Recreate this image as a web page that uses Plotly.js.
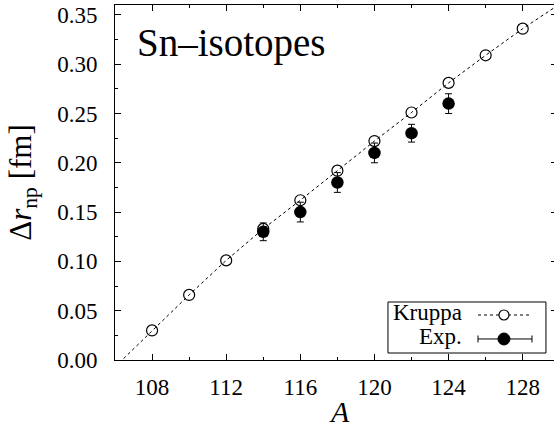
<!DOCTYPE html>
<html>
<head>
<meta charset="utf-8">
<script src="https://cdn.plot.ly/plotly-3.0.1.min.js"></script>
<style>
html, body { margin: 0; padding: 0; overflow: hidden; background: #fff; }
#chart { width: 558px; height: 423px; }
</style>
</head>
<body>
<div id="chart"></div>
<script>
// Kruppa calculation (open circles)
const kruppaA = [108, 110, 112, 114, 116, 118, 120, 122, 124, 126, 128];
const kruppaR = [0.030, 0.066, 0.101, 0.133, 0.162, 0.192, 0.222, 0.251, 0.281, 0.309, 0.336];
// Dashed Kruppa curve, extended to the frame edges
const curveA = [106, 108, 110, 112, 114, 116, 118, 120, 122, 124, 126, 128, 130];
const curveR = [-0.007, 0.030, 0.066, 0.101, 0.133, 0.162, 0.192, 0.222, 0.251, 0.281, 0.309, 0.336, 0.361];
// Experimental values (filled circles with error bars)
const expA = [114, 116, 118, 120, 122, 124];
const expR = [0.130, 0.150, 0.180, 0.210, 0.230, 0.260];
const expErr = [0.009, 0.010, 0.010, 0.010, 0.009, 0.010];
// Axis ticks
const xTicks = [108, 112, 116, 120, 124, 128];
const yTicks = [0.00, 0.05, 0.10, 0.15, 0.20, 0.25, 0.30, 0.35];
const yTickText = ['0.00', '0.05', '0.10', '0.15', '0.20', '0.25', '0.30', '0.35'];

const FONT = 'Liberation Serif';

const traces = [
  {
    x: curveA, y: curveR, type: 'scatter', mode: 'lines',
    line: {color: '#000', width: 1, dash: '3px,3px'},
    showlegend: false, hoverinfo: 'skip'
  },
  {
    x: kruppaA, y: kruppaR, type: 'scatter', mode: 'markers',
    marker: {symbol: 'circle-open', size: 11, color: '#000', line: {width: 1.2, color: '#000'}},
    showlegend: false, cliponaxis: false
  },
  {
    x: expA, y: expR, type: 'scatter', mode: 'markers',
    marker: {symbol: 'circle', size: 12.5, color: '#000'},
    error_y: {type: 'data', array: expErr, visible: true, color: '#000', thickness: 1, width: 3.5},
    showlegend: false
  }
];

// legend geometry (paper coords)
const lx0 = 0.6176, lx1 = 0.975, ly0 = 0.0197, ly1 = 0.1634;
const sx0 = 0.8213, sx1 = 0.9434, sxc = 0.880;
const yK = 0.1268, yE = 0.0592;

const shapes = [
  {type: 'rect', xref: 'paper', yref: 'paper', x0: lx0, x1: lx1, y0: ly0, y1: ly1,
   line: {color: '#000', width: 1}, fillcolor: 'rgba(0,0,0,0)'},
  {type: 'line', xref: 'paper', yref: 'paper', x0: sx0, x1: sx1, y0: yK, y1: yK,
   line: {color: '#000', width: 1, dash: '3px,3px'}},
  {type: 'circle', xref: 'paper', yref: 'paper', xsizemode: 'pixel', ysizemode: 'pixel',
   xanchor: sxc, yanchor: yK, x0: -5, x1: 5, y0: -5, y1: 5,
   line: {color: '#000', width: 1.2}, fillcolor: '#fff'},
  {type: 'line', xref: 'paper', yref: 'paper', x0: sx0, x1: sx1, y0: yE, y1: yE,
   line: {color: '#000', width: 1}},
  {type: 'line', xref: 'paper', yref: 'paper', ysizemode: 'pixel', yanchor: yE,
   x0: sx0, x1: sx0, y0: -3.5, y1: 3.5, line: {color: '#000', width: 1}},
  {type: 'line', xref: 'paper', yref: 'paper', ysizemode: 'pixel', yanchor: yE,
   x0: sx1, x1: sx1, y0: -3.5, y1: 3.5, line: {color: '#000', width: 1}},
  {type: 'circle', xref: 'paper', yref: 'paper', xsizemode: 'pixel', ysizemode: 'pixel',
   xanchor: sxc, yanchor: yE, x0: -6, x1: 6, y0: -6, y1: 6,
   line: {color: '#000', width: 1}, fillcolor: '#000'}
];

const annotations = [
  {xref: 'paper', yref: 'paper', x: 0.046, y: 0.893, xanchor: 'left', yanchor: 'middle',
   text: 'Sn–isotopes', showarrow: false, font: {family: FONT, size: 39, color: '#000'}},
  {xref: 'paper', yref: 'paper', x: 0.789, y: yK + 0.008, xanchor: 'right', yanchor: 'middle',
   text: 'Kruppa', showarrow: false, font: {family: FONT, size: 23, color: '#000'}},
  {xref: 'paper', yref: 'paper', x: 0.789, y: yE + 0.008, xanchor: 'right', yanchor: 'middle',
   text: 'Exp.', showarrow: false, font: {family: FONT, size: 23, color: '#000'}},
  {xref: 'paper', yref: 'paper', x: 0.509, y: -0.145, xanchor: 'center', yanchor: 'middle',
   text: '<i>A</i>', showarrow: false, font: {family: FONT, size: 30, color: '#000'}}
];

const layout = {
  width: 558, height: 423,
  margin: {l: 115, r: 1, t: 5, b: 63, pad: 0},
  paper_bgcolor: '#fff', plot_bgcolor: '#fff',
  font: {family: FONT, color: '#000'},
  showlegend: false,
  xaxis: {
    range: [106, 129.85], tickvals: xTicks, ticktext: xTicks.map(String),
    ticks: 'inside', ticklen: 6, tickwidth: 1, tickcolor: '#000',
    minor: {dtick: 2, tick0: 106, ticks: 'inside', ticklen: 3, tickwidth: 1, tickcolor: '#000'},
    showline: true, linecolor: '#000', linewidth: 1, mirror: 'allticks',
    showgrid: false, zeroline: false,
    tickfont: {family: FONT, size: 23, color: '#000'},
    ticklabelstandoff: 6
  },
  yaxis: {
    range: [0, 0.36], tickvals: yTicks, ticktext: yTickText,
    ticks: 'inside', ticklen: 6, tickwidth: 1, tickcolor: '#000',
    minor: {dtick: 0.025, tick0: 0, ticks: 'inside', ticklen: 3, tickwidth: 1, tickcolor: '#000'},
    showline: true, linecolor: '#000', linewidth: 1, mirror: 'allticks',
    showgrid: false, zeroline: false,
    tickfont: {family: FONT, size: 23, color: '#000'},
    ticklabelstandoff: 12,
    title: {text: 'Δ<i>r</i><sub>np</sub> [fm]', font: {family: FONT, size: 31, color: '#000'}, standoff: 16}
  },
  shapes: shapes,
  annotations: annotations
};

Plotly.newPlot('chart', traces, layout, {displayModeBar: false, staticPlot: true});
</script>
</body>
</html>
